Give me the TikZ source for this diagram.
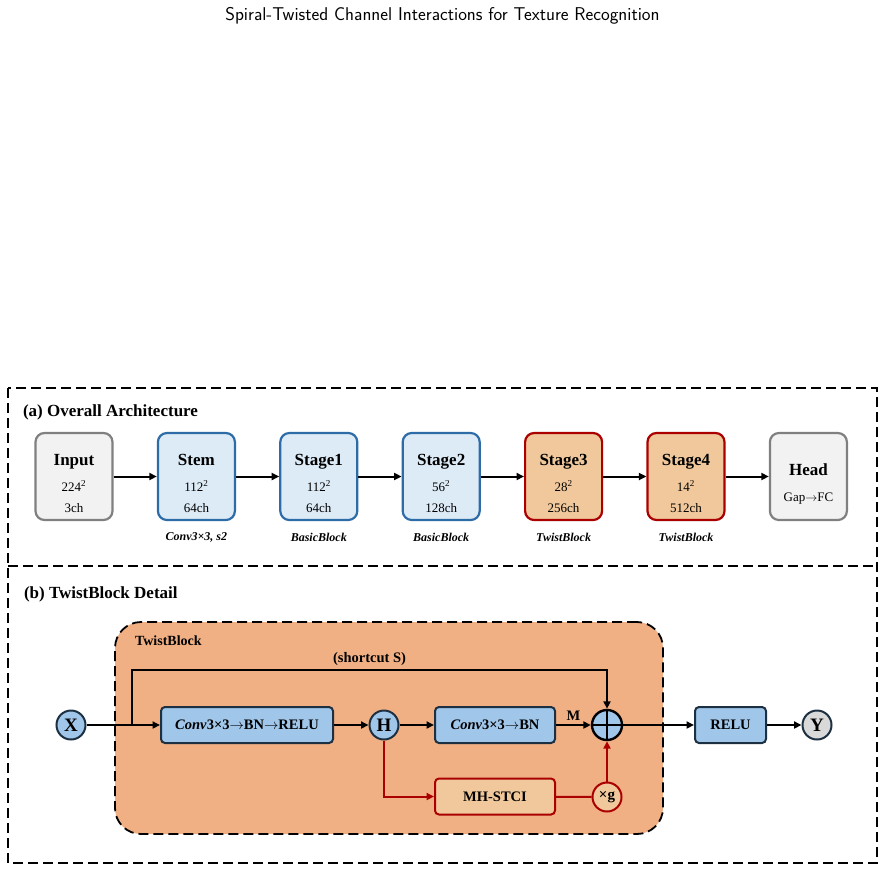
\documentclass[tikz,border=0pt]{standalone}
\usepackage{fontspec}
\setmainfont{Liberation Serif}
\usetikzlibrary{arrows.meta,positioning}
\definecolor{stci@navy}{RGB}{28,48,66}
\definecolor{stci@graydraw}{RGB}{128,128,128}
\definecolor{stci@grayfill}{RGB}{242,242,242}
\definecolor{stci@bluedraw}{RGB}{46,108,168}
\definecolor{stci@bluefill}{RGB}{221,235,247}
\definecolor{stci@red}{RGB}{170,0,0}
\definecolor{stci@tan}{RGB}{240,200,155}
\definecolor{stci@salmon}{RGB}{241,176,132}
\definecolor{stci@sky}{RGB}{160,198,234}
\definecolor{stci@ygray}{RGB}{217,217,217}
\newcommand{\stagelbl}[3]{{\fontsize{17}{17}\selectfont\bfseries\rule{0pt}{25pt}#1}\\[10.5pt]#2\\[6pt]#3}
\newcommand{\arr}{$\rightarrow$}
\tikzset{
  stci/.style={
    x=1pt, y=-1pt,
    >={Triangle[length=7.5pt,width=7pt]},
    line width=2pt,
    every node/.style={font=\fontsize{14.5}{15}\selectfont\bfseries}
  },
  archbox/.style={                 % stage box of the overall row
    rounded corners=9pt, line width=2.2pt,
    minimum width=77pt, minimum height=87pt,
    inner sep=0pt, align=center,
    font=\fontsize{13}{15}\selectfont
  },
  iobox/.style={archbox, draw=stci@graydraw, fill=stci@grayfill},
  basebox/.style={archbox, draw=stci@bluedraw, fill=stci@bluefill},
  twistbox/.style={archbox, draw=stci@red, fill=stci@tan},
  blocklbl/.style={font=\fontsize{12}{14}\selectfont\bfseries\itshape},
  flow/.style={->, draw=black},
  redflow/.style={->, draw=stci@red},
  panel/.style={draw=black, line width=1.8pt, dash pattern=on 10pt off 5pt},
  panellbl/.style={anchor=west, inner sep=0pt, font=\fontsize{17}{19}\selectfont\bfseries}
}

\begin{document}
\begin{tikzpicture}[stci]
\tikzset{
  opbox/.style={
    draw=stci@navy, fill=stci@sky,
    rounded corners=4pt, line width=2pt,
    minimum height=36pt, inner sep=0pt
  },
  gatebox/.style={opbox, draw=stci@red, fill=stci@tan},
  opdot/.style={
    circle, draw=stci@navy, fill=stci@sky,
    line width=2pt, minimum size=29pt, inner sep=0pt,
    font=\fontsize{19}{20}\selectfont\bfseries
  },
  blockbg/.style={
    draw=black, fill=stci@salmon, line width=1.8pt,
    dash pattern=on 10pt off 5pt, rounded corners=26pt,
    minimum width=548pt, minimum height=212pt, inner sep=0pt
  }
}
\useasboundingbox (0,0) rectangle (885,871);

\node[font=\sffamily\fontsize{18.5}{20}\selectfont] (title) at (442.5,16)
  {Spiral-Twisted Channel Interactions for Texture Recognition};

% panels
\draw[panel] (8,388) rectangle (877,863);
\draw[panel] (8,566) -- (877,566);
\node[panellbl] (lbla) at (22,412) {(a) Overall Architecture};
\node[panellbl] (lblb) at (23,594) {(b) TwistBlock Detail};

% (a) overall row
\node[iobox]                       (inp)  at (74,476.5) {\stagelbl{Input}{224\textsuperscript{2}}{3ch}};
\node[basebox, right=43.2pt of inp]  (stem) {\stagelbl{Stem}{112\textsuperscript{2}}{64ch}};
\node[basebox, right=43.2pt of stem] (st1)  {\stagelbl{Stage1}{112\textsuperscript{2}}{64ch}};
\node[basebox, right=43.2pt of st1]  (st2)  {\stagelbl{Stage2}{56\textsuperscript{2}}{128ch}};
\node[twistbox, right=43.2pt of st2] (st3)  {\stagelbl{Stage3}{28\textsuperscript{2}}{256ch}};
\node[twistbox, right=43.2pt of st3] (st4)  {\stagelbl{Stage4}{14\textsuperscript{2}}{512ch}};
\node[iobox, right=43.2pt of st4]    (head) {{\fontsize{17}{17}\selectfont\bfseries\rule{0pt}{27pt}Head}\\[11.5pt]Gap\arr FC};

\node[blocklbl] (stemlbl) at ([yshift=-16pt]stem.south) {Conv3×3, s2};
\node[blocklbl] (st1lbl)  at ([yshift=-16pt]st1.south)  {BasicBlock};
\node[blocklbl] (st2lbl)  at ([yshift=-16pt]st2.south)  {BasicBlock};
\node[blocklbl] (st3lbl)  at ([yshift=-16pt]st3.south)  {TwistBlock};
\node[blocklbl] (st4lbl)  at ([yshift=-16pt]st4.south)  {TwistBlock};

\foreach \a/\b in {inp/stem, stem/st1, st1/st2, st2/st3, st3/st4, st4/head}
  \draw[flow] (\a) -- (\b);

% (b) twist block detail
\node[blockbg] (tblock) at (389,728) {};
\node[anchor=west, inner sep=0pt, font=\fontsize{14}{16}\selectfont\bfseries] (tblbl) at (134,641) {TwistBlock};

\node[opdot]                    (x)     at (71,725)    {X};
\node[opbox, minimum width=172pt] (conv1) at (247,725)   {\textit{Conv}3×3\arr BN\arr RELU};
\node[opdot]                    (h)     at (384,725)   {H};
\node[opbox, minimum width=120pt] (conv2) at (495,725)   {\textit{Conv}3×3\arr BN};
\node[opdot, draw=black, line width=2.4pt, minimum size=30pt] (add) at (607,725) {};
\node[gatebox, minimum width=120pt] (mh) at (495,796.5) {MH-STCI};
\node[opdot, draw=stci@red, fill=stci@tan, font=\fontsize{15}{16}\selectfont\bfseries] (gate) at (607,797) {×g};
\node[opbox, minimum width=71pt]  (relu)  at (730.5,725) {RELU};
\node[opdot, fill=stci@ygray]   (y)     at (817,725)   {Y};
\draw[line width=2.2pt] (add.north) -- (add.south) (add.west) -- (add.east);

\coordinate (split) at (132,725);
\coordinate (sctop) at (132,670);
\draw[flow] (x) -- (conv1);
\draw[flow] (split) -- (sctop) -| node[pos=0.25, above] (sclbl) {(shortcut S)} (add.north);
\draw[flow] (conv1) -- (h);
\draw[flow] (h) -- (conv2);
\draw[flow] (conv2) -- node[above] (mlbl) {M} (add);
\draw[flow] (add) -- (relu);
\draw[flow] (relu) -- (y);
\draw[redflow] (h) |- (mh);
\draw[draw=stci@red] (mh) -- (gate);
\draw[redflow] (gate) -- (add);

\end{tikzpicture}
\end{document}
